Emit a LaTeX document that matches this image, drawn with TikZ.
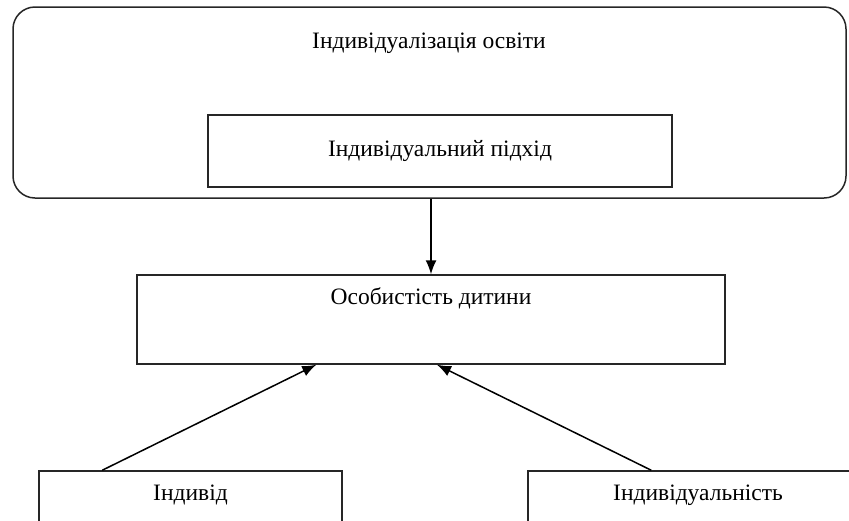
\documentclass[tikz,border=0pt]{standalone}
\usepackage{fontspec}
\setmainfont{Liberation Serif}
\usetikzlibrary{positioning,arrows.meta}

\begin{document}
\begin{tikzpicture}[x=1pt, y=-1pt, >={Latex[length=14pt,width=11pt]},
roundnode/.style={rectangle, rounded corners=22pt, draw=black!85, line width=1.5pt},
squarednode/.style={rectangle, draw=black!85, line width=1.5pt, inner sep=0pt},
textnode/.style={font=\fontsize{23.5}{28}\selectfont, inner sep=0pt},
]
\useasboundingbox (0,0) rectangle (849,520);
%Nodes
\node[roundnode, minimum width=833pt, minimum height=191pt] (edu)   at (429.5,102.5) {};
\node[textnode]                                              (eduT)  at (429,43)      {Індивідуалізація освіти};
\node[squarednode, textnode, draw=black!85, line width=1.5pt, minimum width=464pt, minimum height=72pt] (appr) at (440,151) {Індивідуальний підхід};
\node[squarednode, minimum width=588pt, minimum height=89pt] (child) at (431,319.5) {};
\node[textnode]                                              (childT) at (431,298)    {Особистість дитини};
\node[squarednode, minimum width=303pt, minimum height=89pt] (ind)   at (190.5,515.5) {};
\node[textnode]                                              (indT)  at (190.5,495)   {Індивід};
\node[squarednode, minimum width=340pt, minimum height=89pt] (indiv) at (698,515.5)   {};
\node[textnode]                                              (indivT) at (698,495)    {Індивідуальність};

%Lines
\draw[->, line width=1.5pt] (child.north |- edu.south) -- (child.north);
\draw[->, line width=1.5pt] ([xshift=64pt]ind.north west) -- ([xshift=180pt]child.south west);
\draw[->, line width=1.5pt] ([xshift=124pt]indiv.north west) -- ([xshift=6pt]child.south);
\end{tikzpicture}
\end{document}
